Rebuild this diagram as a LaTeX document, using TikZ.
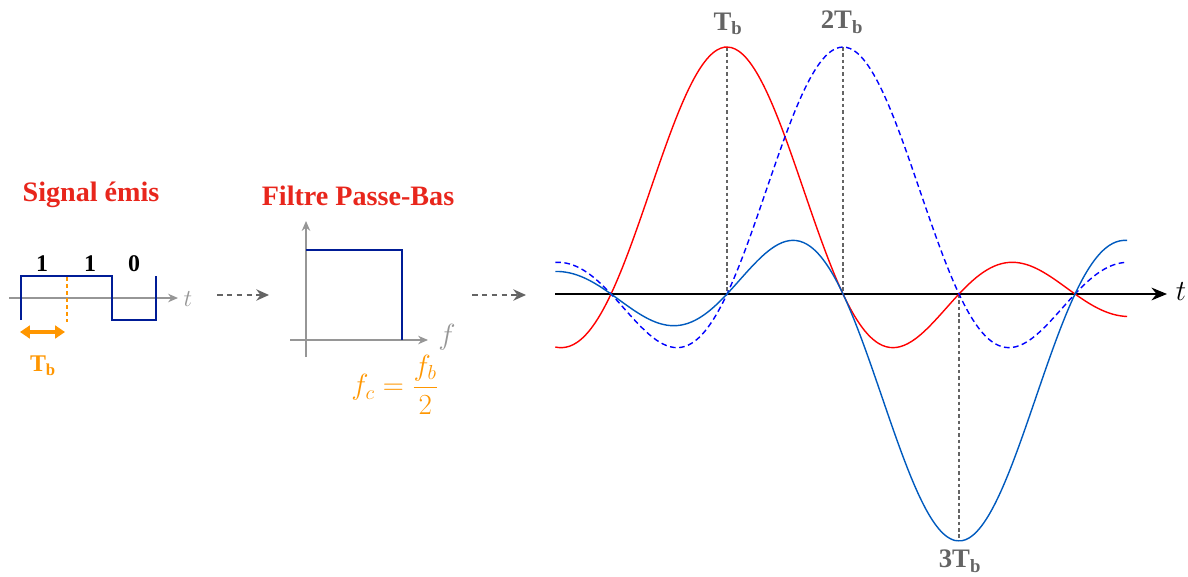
\documentclass[tikz,border=0pt]{standalone}
\usepackage{fontspec}
\setmainfont{Liberation Serif}
\usepackage{amsmath}
\usetikzlibrary{arrows.meta,positioning,calc}

\definecolor{titlered}{RGB}{232,38,28}
\definecolor{sigblue}{RGB}{0,28,150}
\definecolor{tborange}{RGB}{255,150,0}
\definecolor{axisgray}{RGB}{150,150,150}
\definecolor{labelgray}{RGB}{100,100,100}
\definecolor{pulseblue}{RGB}{0,90,190}

\begin{document}
\begin{tikzpicture}[x=0.025cm, y=-0.025cm,
    declare function={sincf(\u)=(abs(\u)<0.0005) ? 1 : sin(180*\u)/(pi*\u);},
    sectitle/.style={font=\fontsize{20}{24}\selectfont\bfseries, text=titlered},
    bitlabel/.style={font=\fontsize{17}{20}\selectfont\bfseries},
    tblabel/.style={font=\fontsize{19}{23}\selectfont\bfseries, text=labelgray},
    smallaxis/.style={-{Stealth[length=7pt,width=6pt]}, line width=1.3pt, axisgray},
    flowarrow/.style={-{Stealth[length=9pt,width=8pt]}, line width=1.8pt, labelgray, dash pattern=on 4pt off 3pt},
    guide/.style={labelgray, line width=0.8pt, dash pattern=on 2.5pt off 2pt},
    pulse/.style={line width=1pt, smooth, domain=-0.48:4.45, samples=160}]
    \useasboundingbox (0,0) rectangle (1188,577);

    % Emitted signal
    \node[sectitle] (sigtitle) at (91,195) {Signal émis};
    \draw[smallaxis] (9,298) -- (178,298);
    \node[axisgray, font=\LARGE] (sigt) at (188,299) {$t$};
    \draw[sigblue, line width=2pt] (21,320) -- (21,276) -- (112,276) -- (112,320) -- (156,320) -- (156,276);
    \node[bitlabel] (bit1) at (42,264) {1};
    \node[bitlabel] (bit2) at (90,264) {1};
    \node[bitlabel] (bit3) at (134,264) {0};
    \draw[tborange, line width=1.3pt, dash pattern=on 3pt off 2pt] (67,277) -- (67,322);
    \coordinate (tbl) at (20,332);
    \coordinate (tbr) at (65,332);
    \draw[tborange, line width=2.2pt, {Triangle[length=7pt,width=9pt]}-{Triangle[length=7pt,width=9pt]}] (tbl) -- (tbr);
    \node[font=\fontsize{17}{20}\selectfont\bfseries, text=tborange] (tbsig) at (43,366) {T\textsubscript{b}};

    % Arrows between panels
    \coordinate (arrAs) at (217,295);
    \coordinate (arrAe) at (269,295);
    \draw[flowarrow] (arrAs) -- (arrAe);
    \coordinate (arrBs) at (472,295);
    \coordinate (arrBe) at (526,295);
    \draw[flowarrow] (arrBs) -- (arrBe);

    % Low-pass filter
    \node[sectitle] (filtitle) at (358,196) {Filtre Passe-Bas};
    \draw[smallaxis] (306,357) -- (306,221);
    \draw[smallaxis] (290,340) -- (428,340);
    \node[axisgray, font=\fontsize{20}{24}\selectfont] (filf) at (447,337) {$f$};
    \draw[sigblue, line width=2pt] (306,250) -- (402,250) -- (402,340);
    \node[tborange, font=\fontsize{21}{25}\selectfont] (fcut) at (395,385) {$f_c = \dfrac{f_b}{2}$};

    % Received pulses
    \draw[-{Stealth[length=11pt,width=9pt]}, line width=1.8pt] (555,294) -- (1167,294);
    \node[font=\fontsize{22}{26}\selectfont] (grt) at (1181,292) {$t$};
    \coordinate (pk1) at (727,47);
    \coordinate (ax1) at (727,294);
    \coordinate (pk2) at (843,47);
    \coordinate (ax2) at (843,294);
    \coordinate (ax3) at (959,294);
    \coordinate (pk3) at (959,540);
    \draw[guide] (pk1) -- (ax1);
    \draw[guide] (pk2) -- (ax2);
    \draw[guide] (ax3) -- (pk3);
    \draw[pulse, red] plot ({611+116*\x},{294-247*sincf(\x-1)});
    \draw[pulse, blue, dash pattern=on 4pt off 2.5pt] plot ({611+116*\x},{294-247*sincf(\x-2)});
    \draw[pulse, pulseblue] plot ({611+116*\x},{294+247*sincf(\x-3)});
    \node[tblabel] (tb1) at (728,24) {T\textsubscript{b}};
    \node[tblabel] (tb2) at (842,22) {2T\textsubscript{b}};
    \node[tblabel] (tb3) at (960,561) {3T\textsubscript{b}};
\end{tikzpicture}
\end{document}
